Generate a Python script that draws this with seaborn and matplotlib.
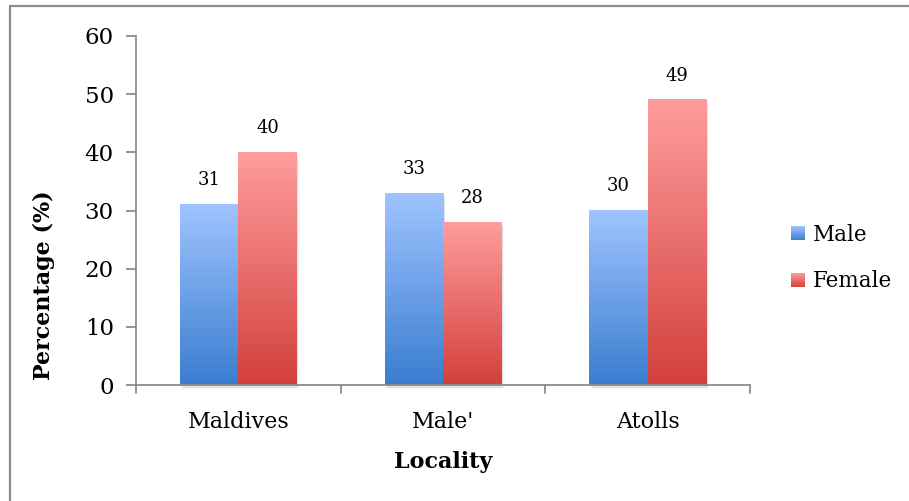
import numpy as np
import pandas as pd
import matplotlib
matplotlib.use("Agg")
import matplotlib.pyplot as plt
import seaborn as sns
from matplotlib.colors import LinearSegmentedColormap
from matplotlib.legend_handler import HandlerBase
from matplotlib.patches import Rectangle
from matplotlib.lines import Line2D

localities = ["Maldives", "Male'", "Atolls"]
male = [31, 33, 30]
female = [40, 28, 49]
series = ["Male", "Female"]

df = pd.DataFrame({
    "Locality": localities * 2,
    "Sex": ["Male"] * 3 + ["Female"] * 3,
    "Percentage": male + female,
})

# top (light) and bottom (dark) colour of each series' gradient
grad = {
    "Male": ("#9fc4ff", "#3a7dcf"),
    "Female": ("#ff9d9d", "#d2403c"),
}

sns.set_theme(style="white")
plt.rcParams["font.family"] = ["DejaVu Serif"]
plt.rcParams["text.color"] = "black"
plt.rcParams["xtick.color"] = "black"
plt.rcParams["ytick.color"] = "black"
plt.rcParams["axes.labelcolor"] = "black"

fig = plt.figure(figsize=(9.09, 5.01), dpi=100)
ax = fig.add_axes([136 / 909, 1 - 385 / 501, (750 - 136) / 909, (385 - 36) / 501])

sns.barplot(data=df, x="Locality", y="Percentage", hue="Sex", order=localities,
            hue_order=series, palette=[grad["Male"][1], grad["Female"][1]],
            width=0.57, ax=ax, legend=False, errorbar=None)

ax.set_ylim(0, 60)
ax.set_xlim(-0.5, 2.5)

# replace the flat fill of each bar with a vertical gradient
bars = [p for p in ax.patches if isinstance(p, Rectangle) and p.get_height() > 0]
grad_img = np.linspace(1, 0, 256).reshape(-1, 1)
for i, bar in enumerate(bars):
    sex = series[i // len(localities)]
    top, bottom = grad[sex]
    cmap = LinearSegmentedColormap.from_list(sex, [bottom, top])
    x0, w, h = bar.get_x(), bar.get_width(), bar.get_height()
    # soft drop shadow
    for k, a in enumerate([0.10, 0.07, 0.04]):
        off = 0.004 * (k + 1)
        ax.add_patch(Rectangle((x0 + off, -0.25 * (k + 1)), w, h,
                               facecolor="black", alpha=a, edgecolor="none",
                               zorder=1.5, clip_on=False))
    bar.set_facecolor("none")
    bar.set_edgecolor("none")
    ax.imshow(grad_img, cmap=cmap, vmin=0, vmax=1, aspect="auto",
              extent=[x0, x0 + w, 0, h], zorder=2, interpolation="bicubic")
    ax.annotate(f"{h:g}", (x0 + w / 2, h), xytext=(0, 11),
                textcoords="offset points", ha="center", va="bottom",
                fontsize=13, color="black")

ax.set_ylim(0, 60)
ax.set_xlim(-0.5, 2.5)

# axes styling
for s in ["top", "right"]:
    ax.spines[s].set_visible(False)
for s in ["left", "bottom"]:
    ax.spines[s].set_color("#8c8c8c")
    ax.spines[s].set_linewidth(1.3)
ax.spines["bottom"].set_zorder(3)

ax.set_yticks(range(0, 61, 10))
ax.tick_params(axis="y", length=7, width=1.3, color="#8c8c8c", labelsize=16.5,
               pad=9, left=True, labelcolor="black")
ax.set_xticks([0, 1, 2])
ax.set_xticklabels(localities)
ax.tick_params(axis="x", length=0, labelsize=16, pad=19, labelcolor="black")
for xb in [-0.5, 0.5, 1.5, 2.5]:
    ax.plot([xb, xb], [0, -0.023], transform=ax.get_xaxis_transform(),
            color="#8c8c8c", lw=1.3, clip_on=False)

ax.set_xlabel("Locality", fontsize=16, fontweight="bold")
ax.xaxis.set_label_coords(0.5, -0.188)
ax.set_ylabel("Percentage (%)", fontsize=16, fontweight="bold")
ax.yaxis.set_label_coords(-0.132, 0.287)


class GradientHandler(HandlerBase):
    def __init__(self, top, bottom):
        super().__init__()
        self.top, self.bottom = top, bottom

    def create_artists(self, legend, orig_handle, xdescent, ydescent,
                       width, height, fontsize, trans):
        cmap = LinearSegmentedColormap.from_list("g", [self.bottom, self.top])
        n = 12
        side = 14 * 72 / 100
        x0 = -xdescent + (width - side) / 2
        y0 = -ydescent + (height - side) / 2
        arts = []
        for k in range(n):
            r = Rectangle((x0, y0 + side * k / n), side, side / n + 0.05,
                          facecolor=cmap((k + 0.5) / n), edgecolor="none",
                          transform=trans)
            arts.append(r)
        return arts


handles = [Rectangle((0, 0), 1, 1), Rectangle((0, 0), 1, 1)]
leg = fig.legend(handles, series, loc="center left",
                 bbox_to_anchor=(770 / 909, 1 - 258 / 501), frameon=False,
                 fontsize=15.5, handlelength=0.8, handleheight=0.8,
                 handletextpad=0.3, labelspacing=1.15,
                 handler_map={handles[0]: GradientHandler(*grad["Male"]),
                              handles[1]: GradientHandler(*grad["Female"])})

# outer frame of the figure (top and left edges)
fig.add_artist(Line2D([10 / 909, 10 / 909], [1 - 6 / 501, 0],
                      transform=fig.transFigure, color="#8c8c8c", lw=1.6))
fig.add_artist(Line2D([10 / 909, 1], [1 - 6 / 501, 1 - 6 / 501],
                      transform=fig.transFigure, color="#8c8c8c", lw=1.6))

fig.savefig("out.png", dpi=100)
